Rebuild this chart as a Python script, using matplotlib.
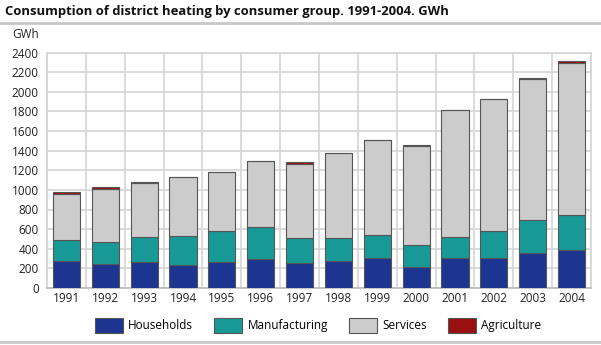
import matplotlib.pyplot as plt
import numpy as np
from matplotlib.patches import Patch
from matplotlib.lines import Line2D

plt.rcParams['font.family'] = ['Open Sans', 'DejaVu Sans']

years = ['1991', '1992', '1993', '1994', '1995', '1996', '1997',
         '1998', '1999', '2000', '2001', '2002', '2003', '2004']
households = [279, 248, 269, 238, 269, 299, 255, 276, 303, 218, 303, 310, 354, 388]
manufacturing = [211, 225, 252, 296, 313, 324, 256, 232, 235, 221, 215, 272, 337, 354]
services = [463, 534, 551, 596, 599, 670, 752, 864, 970, 1011, 1293, 1341, 1434, 1556]
agriculture = [22, 20, 5, 5, 5, 5, 17, 6, 5, 6, 6, 6, 20, 20]

series = [("Households", households, "#1b3591"),
          ("Manufacturing", manufacturing, "#179a97"),
          ("Services", services, "#cccccc"),
          ("Agriculture", agriculture, "#9a1010")]

fig = plt.figure(figsize=(6.01, 3.45), dpi=100)
ax = fig.add_axes([47 / 601, 1 - 288 / 345, 544 / 601, (288 - 52.5) / 345])

x = np.arange(len(years))
bottom = np.zeros(len(years))
for name, vals, col in series:
    vals = np.array(vals)
    ax.bar(x, vals, 0.7, bottom=bottom, color=col, edgecolor="#555555",
           linewidth=0.8, zorder=3)
    bottom += vals

ax.set_xlim(-0.5, len(years) - 0.5)
ax.set_ylim(0, 2400)
ax.set_yticks(np.arange(0, 2401, 200))
ax.set_xticks(x, years)
ax.set_xticks(np.arange(-0.5, len(years), 1), minor=True)
ax.grid(True, axis='y', color="#d4d4d4", linewidth=1.2, zorder=0)
ax.grid(True, axis='x', which='minor', color="#d4d4d4", linewidth=1.2, zorder=0)
ax.tick_params(which='both', length=0, labelsize=8.5, colors="#222222")
ax.tick_params(axis='y', pad=6)
ax.tick_params(axis='x', pad=3)
for s in ax.spines.values():
    s.set_color("#d4d4d4")
    s.set_linewidth(1.2)
ax.spines['bottom'].set_color("#bbbbbb")

fig.text(5 / 601, 1 - 12 / 345, "Consumption of district heating by consumer group. 1991-2004. GWh",
         fontsize=9.4, fontweight='bold', va='center', ha='left', color="#111111")
fig.text(12 / 601, 1 - 35 / 345, "GWh", fontsize=8.5, va='center', ha='left', color="#222222")
fig.add_artist(Line2D([0, 1], [1 - 22.5 / 345, 1 - 22.5 / 345], color="#c8c8c8", linewidth=2))
fig.add_artist(Line2D([0, 1], [1 - 342 / 345, 1 - 342 / 345], color="#c8c8c8", linewidth=2))

handles = [Patch(facecolor=col, edgecolor="#555555", linewidth=0.8, label=name)
           for name, vals, col in series]
fig.legend(handles=handles, loc='center', bbox_to_anchor=(318 / 601, 1 - 325.5 / 345), ncol=4,
           frameon=False, fontsize=8.5, handlelength=2.4, handleheight=1.45,
           columnspacing=1.75, handletextpad=0.45, borderpad=0, borderaxespad=0)

fig.savefig("out.png", dpi=100)
